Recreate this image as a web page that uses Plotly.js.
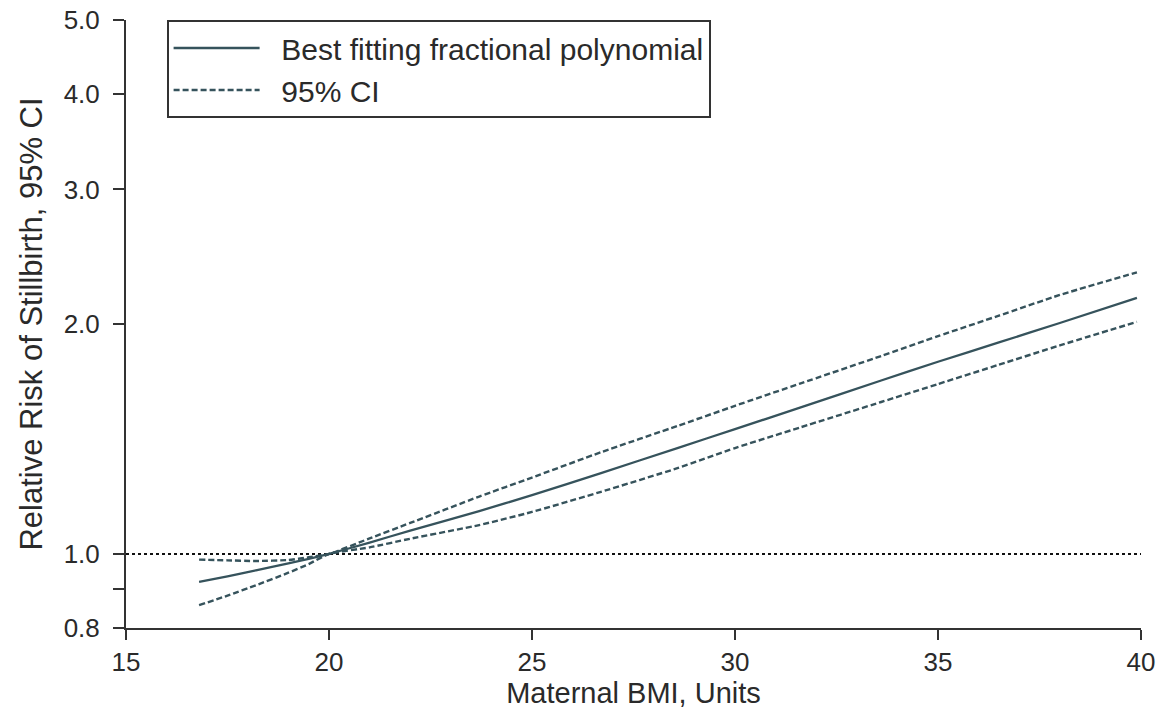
<!DOCTYPE html>
<html>
<head>
<meta charset="utf-8">
<script src="https://cdn.plot.ly/plotly-3.0.1.min.js"></script>
<style>html,body{margin:0;padding:0;background:#fff;}#chart{width:1161px;height:723px;}</style>
</head>
<body>
<div id="chart"></div>
<script>
// Maternal BMI (units)
const bmi = [16.8, 17.5, 18.2, 19.0, 19.5, 20.0, 21.0, 22.0, 23.7, 25.0, 26.7, 28.6, 30.0, 31.6, 33.6, 35.0, 36.5, 38.0, 39.9];
// Relative risk, best fitting fractional polynomial
const rrFit = [0.919, 0.935, 0.952, 0.972, 0.985, 1.0, 1.035, 1.073, 1.138, 1.194, 1.276, 1.377, 1.457, 1.554, 1.687, 1.785, 1.892, 2.006, 2.164];
// Upper 95% CI
const rrUpper = [0.983, 0.981, 0.979, 0.982, 0.99, 1.0, 1.048, 1.098, 1.189, 1.259, 1.359, 1.472, 1.563, 1.671, 1.816, 1.928, 2.051, 2.183, 2.337];
// Lower 95% CI
const rrLower = [0.857, 0.882, 0.910, 0.945, 0.970, 1.0, 1.020, 1.047, 1.091, 1.135, 1.206, 1.296, 1.376, 1.464, 1.581, 1.669, 1.769, 1.875, 2.013];
// Axis ticks
const xTicks = [15, 20, 25, 30, 35, 40];
const yTicks = [0.8, 0.9, 1.0, 2.0, 3.0, 4.0, 5.0];
const yTickText = ['0.8', '', '1.0', '2.0', '3.0', '4.0', '5.0'];

const lineColor = '#36535c';
const textColor = '#2a2a2a';
const fontFam = '"Liberation Sans", Arial, sans-serif';
const pad = '\u00a0\u00a0';

const traces = [
  {x: bmi, y: rrFit, mode: 'lines', name: pad + 'Best fitting fractional polynomial',
   line: {color: lineColor, width: 2.3, shape: 'spline', smoothing: 0.5}},
  {x: bmi, y: rrUpper, mode: 'lines', name: pad + '95% CI', legendgroup: 'ci',
   line: {color: lineColor, width: 2.4, dash: '6px,3px', shape: 'spline', smoothing: 0.5}},
  {x: bmi, y: rrLower, mode: 'lines', name: '95% CI lower', legendgroup: 'ci', showlegend: false,
   line: {color: lineColor, width: 2.4, dash: '6px,3px', shape: 'spline', smoothing: 0.5}}
];

const layout = {
  width: 1161, height: 723,
  paper_bgcolor: '#fff', plot_bgcolor: '#fff',
  margin: {l: 126, r: 20, t: 20, b: 95},
  font: {family: fontFam, size: 26, color: textColor},
  showlegend: true,
  legend: {
    x: 0.04, y: 1.0, xanchor: 'left', yanchor: 'top',
    bordercolor: '#333', borderwidth: 2, bgcolor: '#fff',
    font: {family: fontFam, size: 30, color: textColor},
    itemwidth: 86, tracegroupgap: 0
  },
  xaxis: {
    range: [15, 40], tickvals: xTicks, ticktext: xTicks.map(String),
    showgrid: false, zeroline: false, showline: true, linecolor: '#333', linewidth: 2,
    ticks: 'outside', ticklen: 10, tickwidth: 2, tickcolor: '#333',
    tickfont: {size: 26},
    title: {text: 'Maternal BMI, Units', font: {size: 29}, standoff: 2}
  },
  yaxis: {
    type: 'log', range: [Math.log10(0.8), Math.log10(5)],
    tickvals: yTicks, ticktext: yTickText,
    showgrid: false, zeroline: false, showline: true, linecolor: '#333', linewidth: 2,
    ticks: 'outside', ticklen: 11, tickwidth: 2, tickcolor: '#333',
    tickfont: {size: 26}, ticklabelstandoff: 8,
    title: {text: 'Relative Risk of Stillbirth, 95% CI', font: {size: 31}, standoff: 12}
  },
  shapes: [
    {type: 'line', xref: 'paper', yref: 'y', x0: 0, x1: 1, y0: 1, y1: 1,
     line: {color: '#111', width: 2, dash: 'dot'}, layer: 'below'}
  ]
};

Plotly.newPlot('chart', traces, layout, {displayModeBar: false, staticPlot: true});
</script>
</body>
</html>
